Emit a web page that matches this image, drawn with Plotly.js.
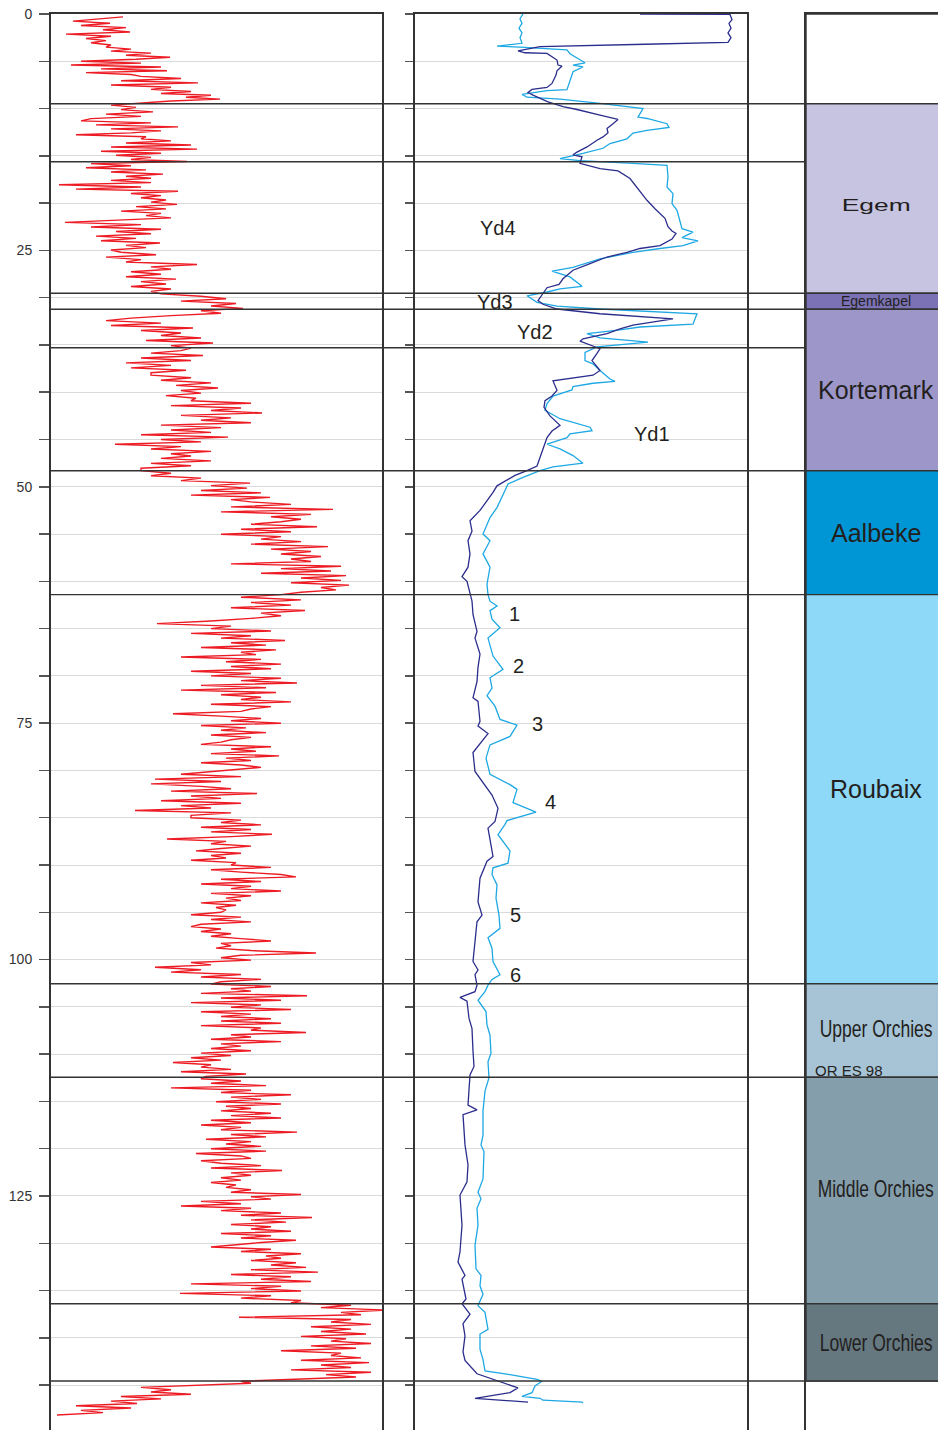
<!DOCTYPE html>
<html>
<head>
<meta charset="utf-8">
<script src="https://cdn.plot.ly/plotly-3.0.1.min.js"></script>
<style>
html,body{margin:0;padding:0;background:#fff;}
#chart{width:938px;height:1430px;}
</style>
</head>
<body>
<div id="chart"></div>
<script>
// ---------------- DATA ----------------
// Depth axis ticks (m)
const depthTicks = [0,5,10,15,20,25,30,35,40,45,50,55,60,65,70,75,80,85,90,95,100,105,110,115,120,125,130,135,140,145];
const depthTickText = ['0','','','','','25','','','','','50','','','','','75','','','','','100','','','','','125','','','',''];

// Gamma-ray log: sample bands (depth edges) and readings in each band
const grEdges = [0.3,3.5,5.0,6.6,8.2,9.4,11.3,13.2,15.6,17.6,19.9,21.8,23.0,25.2,27.0,29.6,31.9,34.0,35.6,38.2,40.9,44.0,47.0,48.3,50.4,51.6,53.7,55.8,57.9,61.4,64.2,65.0,69.0,73.0,77.0,80.4,85.0,90.0,95.0,99.3,99.8,102.6,106.5,109.4,112.6,116.0,120.0,124.6,128.5,132.3,136.3,144.4,145.0,148.4];
const grValues = [
  [72,50,22,59,30,75,52,79,15,60,35,55,40,60],
  [55,80,60,100,75,119,85],
  [30,90,20,110,50,116,35,80],
  [90,130,70,147,60,120,100],
  [140,110,160,135,169,120],
  [95,60,85,70,102,55,90,40],
  [30,100,45,127,60,110,80,25,95],
  [90,120,75,140,60,146,50,110,65,100,80],
  [136,40,80,35,95,60,112,75,100],
  [60,100,8,90,25,127,80,110,90,115],
  [100,126,85,115,70,110,95,120],
  [60,14,90,40,110],
  [65,100,45,85,50,109,75,95,60],
  [70,105,55,90,75,146,100],
  [120,80,110,75,125,90,115,80,120,100],
  [110,150,175,130,185,160,192,150,170],
  [120,80,55,110,60,142,90,130],
  [110,150,95,162,120,140],
  [130,100,152,90,140,75,120,80,135,100],
  [100,140,110,160,125,167,130,150,115,145],
  [140,200,120,190,160,211,130,180,150,200,110,170],
  [120,160,90,177,110,150,64,130,100,160,120,140],
  [110,160,100,140,90],
  [90,120,100,150,130,199,160,196],
  [150,210,140,219,180],
  [200,240,180,282,170,260,220,250],
  [230,200,266,190,240,170,230,210],
  [250,200,277,220,260,230,270,240],
  [260,180,290,230,280,210,295,250,290,240,298,270,285,250],
  [230,190,250,200,240,180,254,210,230,200],
  [160,106,180],
  [160,220,140,200,170,234,180,215,150,225,190,205,130,210,175,230],
  [180,220,140,200,160,230,190,246,150,215,130,225,170,210,190,240],
  [160,220,200,190,122,170,210,180,230,150,195,170,215,160,200,180],
  [170,150,220,180,205,160,228,175,200,150,190,210,185,160],
  [130,190,104,170,100,150,180,120,206,140,170,110,190,130,160,84,180,140],
  [140,190,170,210,150,200,160,221,180,116,175,160,200,170,145,190,160,175,140,185],
  [180,220,160,190,230,245,170,210,150,200,180,230,160,200,175,190,150,185,165,175],
  [170,140,190,160,200,150,140,170,150,180,160,190,220,170,180,165,200],
  [265,190],
  [170,200,140,160,104,150,120,190,150,210,170],
  [160,220,180,200,150,256,170,230,140,210,180,240,150,200,170,220],
  [170,230,150,210,200,255,180,200,160,230,170,190],
  [160,200,150,180,140,170,122,160,150,180,130,195,155],
  [150,190,160,215,120,200,170,240,180,210,165,230,175,200],
  [170,220,180,230,160,200,150,190,170,246,180,215,155,200,175,210],
  [160,215,145,190,200,150,170,210,160,231,180,200,170,190,160,185,175,200],
  [180,250,200,220,150,190,130,200,170,230,190,261,200,235,180,220],
  [200,240,170,220,190,245,210,180,160,220,190,250,215,230,200,245],
  [220,255,200,267,180,240,210,260,140,230,200,250,129,220,190,250],
  [240,300,270,335,290,310,188,300,280,320,260,300,270,315,250,295,280,320,260,305,230,290,280,310,250,318,270,300,240,320,275,305],
  [230,190,200],
  [149,90,120,100,140,70,110,60,86,25,80,30,52,6]
];

// Resistivity logs (dark = deep, light = shallow)
const resDeepDepth = [0,0.05,0.6,1.0,1.5,2.0,2.5,2.95,3.0,3.2,3.46,3.9,4.1,4.16,4.87,5.4,5.5,6.0,6.46,7.34,7.77,7.98,8.3,8.58,9.29,9.8,10.1,10.7,11.15,11.6,12.1,12.57,13.0,13.35,14.06,14.6,14.9,15.1,15.8,16.35,16.6,17.4,18.3,19.7,20.6,21.6,22.5,22.95,23.2,23.8,24.5,24.8,25.2,25.7,26.4,27.1,28.0,28.6,28.95,29.6,30.3,30.7,31.2,31.7,32.25,32.9,33.3,33.8,34.35,34.6,34.9,35.4,35.9,36.65,37.7,38.2,38.8,39.8,40.4,40.9,41.6,42.5,43.5,44.1,44.8,45.8,46.9,47.8,48.3,48.8,49.9,50.6,51.5,52.5,53.6,54.7,55.7,57.1,58.5,59.5,60,61.4,62.1,63.5,65.3,66,67.7,69.1,70.6,72.3,72.7,74.8,75.3,76.1,76.9,78.1,80.1,81.1,82.6,84,85.4,86.1,89.1,89.6,91.4,93.9,95.3,96,98.1,100.2,101.1,101.6,102.7,103.4,104.0,104.4,106.2,107.3,109.7,111.3,112.2,114.3,115.4,115.9,116.4,119.6,121.7,123.5,124.9,128.1,130.9,132,133.4,133.8,135.9,136.4,137.5,138.5,139.8,141.5,142.4,143.8,144.5,145.3,145.8,146.4,146.8];
const resDeepValue = [225,315,317,314,316,313,316,314,313,230,125,103,110,132,142,143,147,142,141,137,132,117,113,118,133,148,162,185,203,198,192,193,188,182,172,162,158,167,165,185,203,215,222,232,240,250,253,257,261,257,245,225,212,192,175,158,148,144,132,128,123,128,142,185,258,218,205,192,168,165,172,185,182,177,185,178,138,142,137,130,129,135,145,137,132,129,125,122,112,100,82,78,72,65,55,57,53,55,53,47,52,55,57,58,62,60,65,63,62,58,63,65,63,73,67,58,60,67,77,83,80,73,78,72,65,63,67,62,60,58,63,60,62,60,45,52,54,57,58,59,55,54,53,62,48,50,53,52,45,47,45,43,50,47,51,47,55,48,50,48,50,62,82,103,95,60,113];

const resShallowDepth = [0,0.5,1.0,1.5,2.0,2.5,3.1,3.4,3.5,3.8,4.2,5.16,5.4,5.6,6.1,7.0,8.0,8.1,8.5,8.8,9.0,9.46,10.0,10.9,11.05,11.6,12.0,12.3,12.6,13.2,13.7,14.2,14.75,15.3,15.5,15.8,16.0,17.2,18.3,19.0,20.05,20.76,21.8,22.7,23.06,23.65,24.0,24.5,24.8,25.2,25.9,26.8,27.2,27.8,28.8,29.06,29.4,29.8,30.5,30.9,31.2,31.7,32.8,33.1,33.4,33.8,34.25,34.7,35.2,35.8,36.65,37.0,37.7,38.6,38.85,39.05,39.4,39.75,40.4,41.2,41.9,42.8,43.7,44.07,44.4,44.8,45.5,46.0,46.7,47.5,47.9,48.3,49.0,49.7,50.4,51.1,52.2,53.25,53.95,55,55.7,57.1,58.5,60.3,61.4,62.1,62.6,63.1,64.0,64.9,66,67.9,69.3,70.2,71.3,72.1,73.2,74.6,75.2,76.4,77.3,78.7,80.4,81.5,82,83.4,84.4,85.3,85.7,86.8,88.5,89.8,90.3,91,92.1,93.5,95.3,96.7,97.7,98.8,100.2,101.6,102.1,102.7,103.4,104.3,105.5,106.9,108,109.9,110.8,112.5,113.9,116,118.6,119.6,120.3,123.2,124.6,125.3,126.3,128.1,130.2,132.7,133.4,134.5,135.4,136.6,137.3,138.3,139.1,139.6,141.2,142.3,143.5,143.9,144.4,144.6,145.1,145.8,146.2,146.4,146.6,146.8,146.9];
const resShallowValue = [108,105,107,104,107,105,107,82,105,152,155,170,158,168,158,155,152,132,107,112,145,185,228,223,232,252,254,232,218,212,195,188,168,145,165,218,252,253,252,258,257,262,265,267,278,267,283,268,245,218,185,158,137,155,167,145,132,112,122,142,185,282,278,225,205,172,185,233,182,170,170,178,185,195,200,178,158,157,138,132,130,145,175,177,155,152,132,145,158,168,138,125,108,93,90,87,82,75,72,68,75,68,75,72,73,75,82,75,77,85,73,78,88,75,77,72,80,85,102,95,75,71,75,95,102,98,121,92,90,83,95,93,78,77,82,81,84,85,73,77,78,85,77,73,70,63,71,72,75,76,73,74,70,68,68,66,69,68,63,66,62,63,60,61,66,65,68,63,70,72,73,65,65,68,70,95,122,127,120,117,107,125,128,167,168];

// Marker labels on the resistivity track
const resLabels = ['Yd4','Yd3','Yd2','Yd1','1','2','3','4','5','6'];
const resLabelDepth = [22.6,30.5,33.65,44.4,63.5,69.0,75.1,83.3,95.3,101.6];
const resLabelValue = [83,80,120,237,99,103,122,135,100,100];

// Lithostratigraphic units
const unitNames = ['','Egem','Egemkapel','Kortemark','Aalbeke','Roubaix','Upper Orchies','Middle Orchies','Lower Orchies'];
const unitTop = [0,9.49,29.54,31.23,48.3,61.4,102.55,112.45,136.4];
const unitBase = [9.49,29.54,31.23,48.3,61.4,102.55,112.45,136.4,144.57];
const unitColors = ['#ffffff','#c6c4e1','#7b72b5','#9d97c9','#0096d6','#8ed8f8','#a7c4d6','#859eac','#65777f'];
const unitLabelDepth = [0,20.3,30.4,39.8,54.9,82.0,107.3,124.3,140.5];
const unitFontSize = [12,17,14,25,25,25,23,23,23];
const unitLabelWidth = [0,69,0,0,0,0,113,116,113];   // drawn width of stretched / condensed labels
const minorBoundaries = [15.62,35.3];
const sampleLabel = 'OR ES 98';
const sampleDepth = 111.7;

// ---------------- BUILD ----------------
const W = 938;
const grDepth = [], grVal = [];
for (let i = 0; i < grValues.length; i++) {
  const top = grEdges[i], base = grEdges[i+1], vals = grValues[i];
  for (let j = 0; j < vals.length; j++) {
    grDepth.push(top + j * (base - top) / vals.length);
    grVal.push(vals[j]);
  }
}

const FONT = 'Liberation Sans, Arial, Helvetica, sans-serif';

const traces = [
  {x: grVal, y: grDepth, xaxis: 'x', yaxis: 'y', mode: 'lines', line: {color: '#ed1c24', width: 1.4}, hoverinfo: 'skip'},
  {x: resShallowValue, y: resShallowDepth, xaxis: 'x2', yaxis: 'y2', mode: 'lines', line: {color: '#1ea8e4', width: 1.3}, hoverinfo: 'skip'},
  {x: resDeepValue, y: resDeepDepth, xaxis: 'x2', yaxis: 'y2', mode: 'lines', line: {color: '#2b2d8c', width: 1.3}, hoverinfo: 'skip'}
];

const shapes = [];
const allBoundaries = unitTop.slice(1).concat([unitBase[unitBase.length-1]]);
allBoundaries.forEach(d => shapes.push({type: 'line', xref: 'paper', yref: 'y', x0: 51/W, x1: 1, y0: d, y1: d, line: {color: '#333', width: 1.4}, layer: 'above'}));
minorBoundaries.forEach(d => shapes.push({type: 'line', xref: 'paper', yref: 'y', x0: 51/W, x1: 806/W, y0: d, y1: d, line: {color: '#333', width: 1.4}, layer: 'above'}));
for (let i = 0; i < unitNames.length; i++) {
  shapes.push({type: 'rect', xref: 'x3', yref: 'y3', x0: 0, x1: 1.02, y0: unitTop[i], y1: unitBase[i], fillcolor: unitColors[i], line: {color: '#333', width: 1.4}, layer: 'above'});
}

const annotations = [];
for (let i = 1; i < unitNames.length; i++) {
  annotations.push({xref: 'x3', yref: 'y3', x: 0.53, y: unitLabelDepth[i], text: unitNames[i], showarrow: false,
    font: {family: FONT, size: unitFontSize[i], color: '#231f20'}, xanchor: 'center', yanchor: 'middle'});
}
annotations.push({xref: 'x3', yref: 'y3', x: 0.05, y: sampleDepth, text: sampleLabel, showarrow: false, xanchor: 'left', yanchor: 'middle', font: {family: FONT, size: 15, color: '#231f20'}});
for (let i = 0; i < resLabels.length; i++) {
  annotations.push({xref: 'x2', yref: 'y2', x: resLabelValue[i], y: resLabelDepth[i], text: resLabels[i], showarrow: false, xanchor: 'center', yanchor: 'middle', font: {family: FONT, size: 20, color: '#231f20'}});
}

const yBase = {range: [149.75, 0], autorange: false, tickmode: 'array', tickvals: depthTicks, zeroline: false,
  showline: true, linecolor: '#333', linewidth: 2, ticks: 'outside', tickcolor: '#555', tickwidth: 1.5,
  showgrid: true, gridcolor: '#dadada', gridwidth: 1, fixedrange: true};

const layout = {
  width: 938, height: 1430,
  margin: {l: 0, r: 0, t: 14, b: 0, pad: 0},
  paper_bgcolor: '#fff', plot_bgcolor: 'rgba(0,0,0,0)',
  showlegend: false,
  font: {family: FONT, color: '#333'},
  xaxis: {domain: [51/W, 382/W], range: [0, 331], anchor: 'y', side: 'top', showline: true, linecolor: '#333', linewidth: 2, showgrid: false, zeroline: false, showticklabels: false, ticks: '', fixedrange: true},
  xaxis2: {domain: [415/W, 747/W], range: [0, 332], anchor: 'y2', side: 'top', showline: true, linecolor: '#333', linewidth: 2, showgrid: false, zeroline: false, showticklabels: false, ticks: '', fixedrange: true},
  xaxis3: {domain: [806/W, 1], range: [0, 1], anchor: 'y3', side: 'top', showline: true, linecolor: '#333', linewidth: 2, showgrid: false, zeroline: false, showticklabels: false, ticks: '', fixedrange: true},
  yaxis: Object.assign({}, yBase, {anchor: 'x', ticktext: depthTickText, ticklen: 10, mirror: true, showticklabels: true, tickfont: {family: FONT, size: 14, color: '#333'}, ticklabelstandoff: 4}),
  yaxis2: Object.assign({}, yBase, {anchor: 'x2', ticktext: depthTicks.map(() => ''), ticklen: 8, mirror: true, showticklabels: false}),
  yaxis3: Object.assign({}, yBase, {anchor: 'x3', showgrid: false, ticks: '', showticklabels: false, mirror: false}),
  shapes: shapes,
  annotations: annotations
};

Plotly.newPlot('chart', traces, layout, {staticPlot: true, displayModeBar: false}).then(() => {
  // stretch "Egem" and condense the Orchies labels horizontally, as in the source figure
  document.querySelectorAll('.annotation-text').forEach(t => {
    const k = unitNames.indexOf(t.textContent);
    if (k > 0 && unitLabelWidth[k] > 0) {
      const bb = t.getBBox();
      const s = unitLabelWidth[k] / bb.width;
      const cx = bb.x + bb.width / 2;
      const g = t.parentNode;
      const prev = g.getAttribute('transform') || '';
      g.setAttribute('transform', prev + ' translate(' + cx + ',0) scale(' + s + ',1) translate(' + (-cx) + ',0)');
    }
  });
});
</script>
</body>
</html>
